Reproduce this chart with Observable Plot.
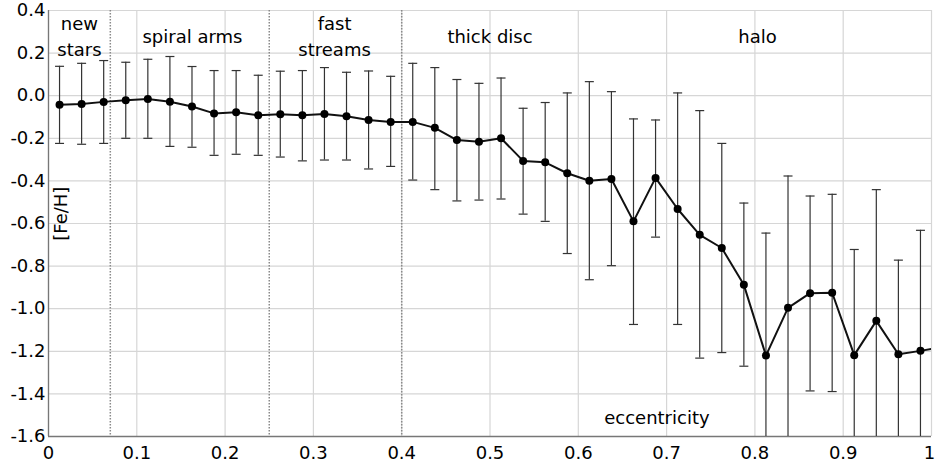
<!DOCTYPE html>
<html>
<head>
<meta charset="utf-8">
<script src="https://cdn.jsdelivr.net/npm/d3@7"></script>
<script src="https://cdn.jsdelivr.net/npm/@observablehq/plot@0.6"></script>
<style>
  html, body { margin: 0; padding: 0; background: #fff; }
  #chart { width: 935px; height: 468px; }
</style>
</head>
<body>
<div id="chart"></div>
<script>
// eccentricity bin centres
const ecc = [0.0125,0.0375,0.0625,0.0875,0.1125,0.1375,0.1625,0.1875,0.2125,0.2375,
             0.2625,0.2875,0.3125,0.3375,0.3625,0.3875,0.4125,0.4375,0.4625,0.4875,
             0.5125,0.5375,0.5625,0.5875,0.6125,0.6375,0.6625,0.6875,0.7125,0.7375,
             0.7625,0.7875,0.8125,0.8375,0.8625,0.8875,0.9125,0.9375,0.9625,0.9875];
// mean [Fe/H]
const feh = [-0.043,-0.039,-0.029,-0.021,-0.015,-0.028,-0.051,-0.083,-0.078,-0.092,
             -0.087,-0.092,-0.086,-0.097,-0.114,-0.123,-0.123,-0.151,-0.208,-0.216,
             -0.200,-0.306,-0.313,-0.364,-0.399,-0.391,-0.590,-0.386,-0.532,-0.653,
             -0.715,-0.888,-1.220,-0.996,-0.927,-0.925,-1.218,-1.057,-1.214,-1.198];
// error bar upper ends
const fehHi = [0.138,0.152,0.165,0.157,0.171,0.184,0.137,0.118,0.118,0.096,
               0.115,0.118,0.132,0.110,0.116,0.091,0.152,0.132,0.076,0.058,
               0.083,-0.059,-0.032,0.013,0.066,0.019,-0.109,-0.114,0.013,-0.070,
               -0.224,-0.504,-0.645,-0.377,-0.471,-0.463,-0.722,-0.441,-0.772,-0.632];
// error bar lower ends
const fehLo = [-0.224,-0.228,-0.224,-0.200,-0.200,-0.238,-0.242,-0.280,-0.275,-0.280,
               -0.288,-0.306,-0.302,-0.302,-0.344,-0.332,-0.396,-0.441,-0.494,-0.490,
               -0.485,-0.556,-0.590,-0.741,-0.864,-0.798,-1.074,-0.664,-1.074,-1.232,
               -1.206,-1.270,-1.795,-1.615,-1.386,-1.389,-1.714,-1.673,-1.656,-1.764];
// next bin beyond the frame (line leaves the chart there)
const eccNext = [1.0125];
const fehNext = [-1.18];

const regionBounds = [0.07, 0.25, 0.4];
const regionLabels = ["new\nstars", "spiral arms", "fast\nstreams", "thick disc", "halo"];
const regionLabelX = [0.035, 0.163, 0.324, 0.5, 0.803];
const regionLabelY = [0.285, 0.285, 0.285, 0.285, 0.285];

const xTicks = [0, 0.1, 0.2, 0.3, 0.4, 0.5, 0.6, 0.7, 0.8, 0.9];
const xTickLabels = ["0", "0.1", "0.2", "0.3", "0.4", "0.5", "0.6", "0.7", "0.8", "0.9"];
const xTickEnd = [1];
const xTickEndLabel = ["1"];
const yTicks = [0.4, 0.2, 0, -0.2, -0.4, -0.6, -0.8, -1.0, -1.2, -1.4, -1.6];
const yTickLabels = ["0.4", "0.2", "0.0", "-0.2", "-0.4", "-0.6", "-0.8", "-1.0", "-1.2", "-1.4", "-1.6"];

const xTitle = "eccentricity";
const yTitle = "[Fe/H]";

const rows = ecc.map((e, i) => ({e, f: feh[i], hi: fehHi[i], lo: fehLo[i]}));
const lineRows = rows.concat(eccNext.map((e, i) => ({e, f: fehNext[i]})));
const xTickRows = xTicks.map((t, i) => ({t, label: xTickLabels[i]}));
const xTickEndRows = xTickEnd.map((t, i) => ({t, label: xTickEndLabel[i]}));
const yTickRows = yTicks.map((t, i) => ({t, label: yTickLabels[i]}));
const regionRows = regionLabels.map((l, i) => ({l, x: regionLabelX[i], y: regionLabelY[i]}));

const capSymbol = {
  draw(ctx, size) {
    const r = Math.sqrt(size / Math.PI);
    ctx.moveTo(-r, 0);
    ctx.lineTo(r, 0);
  }
};

const font = "DejaVu Sans";

const chart = Plot.plot({
  width: 935,
  height: 468,
  marginLeft: 48,
  marginRight: 4,
  marginTop: 10,
  marginBottom: 32,
  style: {fontFamily: font, fontSize: "18px", color: "#000", background: "#fff"},
  x: {domain: [0, 1], axis: null},
  y: {domain: [-1.6, 0.4], axis: null},
  marks: [
    // grid
    Plot.ruleY(yTicks, {stroke: "#d6d6d6", strokeWidth: 1.2}),
    Plot.ruleX(xTicks.concat(xTickEnd), {stroke: "#d6d6d6", strokeWidth: 1.2}),
    // region dividers
    Plot.ruleX(regionBounds, {stroke: "#8a8a8a", strokeWidth: 1.5, strokeDasharray: "1.5,1.5"}),
    // axis lines
    Plot.ruleX([0], {stroke: "#777", strokeWidth: 1.3}),
    Plot.ruleY([-1.6], {stroke: "#777", strokeWidth: 1.3}),
    // error bars
    Plot.ruleX(rows, {x: "e", y1: "lo", y2: "hi", stroke: "#333", strokeWidth: 1.2, clip: true}),
    Plot.dot(rows, {x: "e", y: "hi", symbol: capSymbol, r: 4.5, stroke: "#333", fill: "none", strokeWidth: 1.2, clip: true}),
    Plot.dot(rows, {x: "e", y: "lo", symbol: capSymbol, r: 4.5, stroke: "#333", fill: "none", strokeWidth: 1.2, clip: true}),
    // mean line + points
    Plot.line(lineRows, {x: "e", y: "f", stroke: "#111", strokeWidth: 2, clip: true}),
    Plot.dot(rows, {x: "e", y: "f", r: 4, fill: "#000", stroke: "none"}),
    // region labels
    Plot.text(regionRows, {x: "x", y: "y", text: "l", fontSize: 18, fill: "#000", lineHeight: 1.39, fontFamily: font}),
    // tick labels
    Plot.text(yTickRows, {x: 0, y: "t", text: "label", textAnchor: "end", dx: -3, fontSize: 18, fill: "#000", fontFamily: font}),
    Plot.text(xTickRows, {x: "t", y: -1.6, text: "label", lineAnchor: "top", dy: 10, fontSize: 18, fill: "#000", fontFamily: font}),
    Plot.text(xTickEndRows, {x: "t", y: -1.6, text: "label", lineAnchor: "top", dy: 10, dx: -2, fontSize: 18, fill: "#000", fontFamily: font}),
    // axis titles
    Plot.text([yTitle], {x: 0.0147, y: -0.554, text: d => d, rotate: -90, fontSize: 18, fill: "#000", fontFamily: font}),
    Plot.text([xTitle], {x: 0.689, y: -1.512, text: d => d, fontSize: 18, fill: "#000", fontFamily: font})
  ]
});

document.getElementById("chart").appendChild(chart);
</script>
</body>
</html>
